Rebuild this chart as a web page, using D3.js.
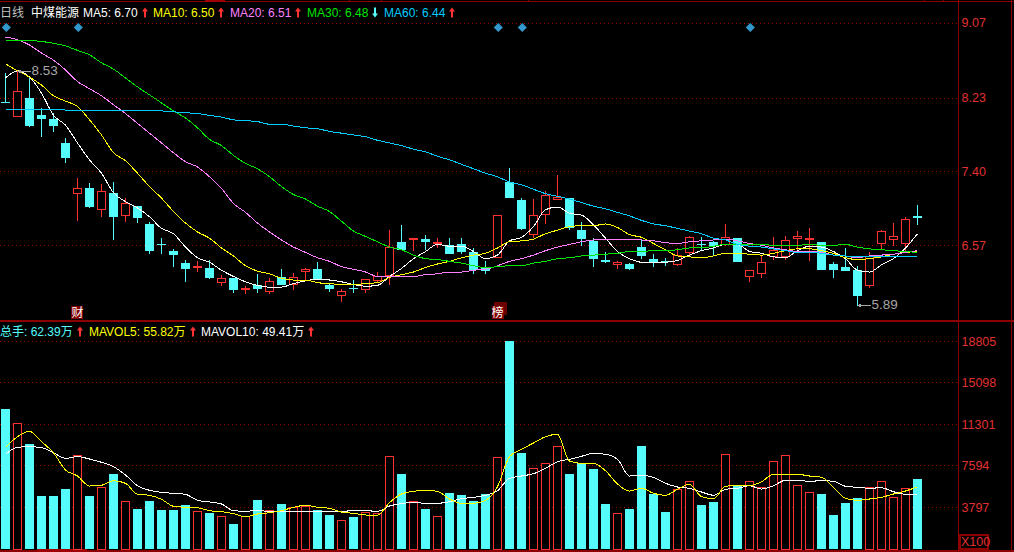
<!DOCTYPE html>
<html>
<head>
<meta charset="utf-8">
<script src="https://cdn.jsdelivr.net/npm/d3@7"></script>
<style>
html, body { margin: 0; padding: 0; background: #000; overflow: hidden; }
text { font-family: "Liberation Sans", "Noto Sans CJK SC", sans-serif; }
</style>
</head>
<body>
<div id="root"></div>
<script>
//DATA - one entry per trading day
const open = [8.18,8.02,8.23,8.03,7.99,7.72,7.15,7.21,6.98,7.16,6.91,7.01,6.81,6.58,6.51,6.37,6.33,6.31,6.16,6.20,6.08,6.12,6.06,6.21,6.13,6.28,6.30,6.12,6.01,6.09,6.08,6.19,6.23,6.61,6.64,6.64,6.60,6.57,6.58,6.49,6.31,6.44,7.28,7.08,6.70,6.92,7.09,7.10,6.74,6.62,6.40,6.36,6.36,6.55,6.42,6.39,6.36,6.49,6.59,6.61,6.58,6.65,6.22,6.26,6.45,6.45,6.65,6.64,6.61,6.36,6.33,6.29,6.12,6.60,6.64,6.59,6.90];
const close = [8.17,8.30,7.91,7.99,7.91,7.55,7.21,7.00,7.18,6.89,7.05,6.88,6.51,6.57,6.47,6.30,6.34,6.20,6.20,6.07,6.09,6.07,6.17,6.12,6.21,6.30,6.19,6.08,6.06,6.08,6.19,6.23,6.55,6.52,6.65,6.61,6.61,6.47,6.49,6.29,6.28,6.91,7.10,6.75,6.91,7.13,7.11,6.76,6.64,6.42,6.38,6.38,6.30,6.45,6.38,6.38,6.46,6.66,6.58,6.56,6.66,6.38,6.29,6.38,6.52,6.63,6.67,6.65,6.30,6.29,6.29,6.00,6.45,6.73,6.67,6.86,6.88];
const high = [8.51,8.53,8.46,8.11,8.06,7.78,7.33,7.27,7.26,7.28,7.10,7.01,6.83,6.65,6.53,6.40,6.39,6.40,6.24,6.20,6.11,6.25,6.20,6.30,6.26,6.31,6.38,6.13,6.08,6.18,6.19,6.27,6.74,6.80,6.65,6.69,6.65,6.65,6.65,6.54,6.39,6.91,7.44,7.10,7.09,7.18,7.36,7.10,6.83,6.65,6.49,6.39,6.37,6.64,6.47,6.43,6.54,6.67,6.66,6.62,6.81,6.65,6.29,6.45,6.66,6.67,6.73,6.76,6.61,6.38,6.54,6.34,6.49,6.74,6.82,6.89,7.02];
const low = [8.17,8.02,7.90,7.79,7.84,7.49,6.84,6.99,6.89,6.63,6.83,6.82,6.47,6.47,6.33,6.16,6.27,6.19,6.11,6.03,6.02,6.03,6.02,6.12,6.07,6.18,6.18,6.05,5.93,6.03,6.03,6.16,6.12,6.52,6.51,6.52,6.54,6.47,6.47,6.25,6.25,6.44,7.10,6.74,6.65,6.81,7.09,6.74,6.56,6.33,6.37,6.30,6.29,6.42,6.33,6.34,6.34,6.44,6.52,6.45,6.56,6.38,6.16,6.20,6.40,6.40,6.52,6.39,6.29,6.20,6.28,5.89,6.09,6.52,6.56,6.49,6.80];

const ma5 = [8.45,8.53,8.46,8.28,8.03,7.92,7.72,7.53,7.38,7.16,7.06,6.99,6.89,6.76,6.70,6.55,6.43,6.38,6.29,6.22,6.16,6.12,6.10,6.10,6.14,6.17,6.19,6.18,6.16,6.13,6.11,6.12,6.22,6.31,6.42,6.50,6.58,6.56,6.56,6.50,6.42,6.46,6.62,6.66,6.78,6.97,7.00,6.93,6.91,6.80,6.65,6.50,6.42,6.38,6.38,6.38,6.40,6.46,6.51,6.54,6.58,6.58,6.50,6.48,6.44,6.43,6.51,6.56,6.55,6.50,6.42,6.29,6.27,6.35,6.42,6.54,6.70];
const ma10 = [8.61,8.53,8.46,8.37,8.25,8.19,8.13,7.98,7.81,7.61,7.52,7.38,7.23,7.10,6.95,6.82,6.72,6.65,6.54,6.45,6.34,6.28,6.25,6.20,6.18,6.18,6.15,6.14,6.13,6.13,6.14,6.15,6.21,6.24,6.27,6.32,6.36,6.39,6.43,6.46,6.48,6.54,6.61,6.62,6.64,6.70,6.74,6.78,6.79,6.79,6.81,6.77,6.69,6.66,6.59,6.52,6.45,6.44,6.43,6.45,6.48,6.48,6.47,6.46,6.48,6.51,6.53,6.53,6.51,6.48,6.43,6.41,6.42,6.44,6.47,6.49,6.50];
const ma20 = [8.91,8.88,8.82,8.73,8.65,8.54,8.41,8.33,8.25,8.15,8.05,7.94,7.83,7.72,7.61,7.51,7.45,7.34,7.21,7.04,6.94,6.82,6.72,6.63,6.55,6.49,6.43,6.39,6.33,6.30,6.27,6.22,6.22,6.22,6.22,6.24,6.25,6.27,6.27,6.29,6.30,6.34,6.39,6.42,6.46,6.51,6.55,6.58,6.61,6.63,6.64,6.64,6.64,6.63,6.62,6.60,6.59,6.61,6.62,6.63,6.64,6.62,6.59,6.57,6.54,6.52,6.50,6.50,6.49,6.46,6.45,6.43,6.45,6.46,6.47,6.49,6.51];
const ma30 = [8.87,8.87,8.87,8.86,8.84,8.81,8.76,8.71,8.62,8.55,8.45,8.35,8.26,8.17,8.08,8.00,7.89,7.76,7.69,7.58,7.49,7.43,7.34,7.23,7.14,7.09,7.01,6.95,6.84,6.73,6.67,6.61,6.55,6.52,6.46,6.42,6.41,6.39,6.37,6.34,6.32,6.33,6.34,6.34,6.37,6.39,6.42,6.43,6.45,6.46,6.47,6.48,6.50,6.50,6.51,6.51,6.52,6.54,6.54,6.56,6.58,6.58,6.58,6.58,6.57,6.57,6.57,6.58,6.57,6.57,6.58,6.55,6.53,6.52,6.51,6.50,6.49];
const ma60 = [8.10,8.10,8.10,8.10,8.10,8.09,8.09,8.09,8.09,8.09,8.09,8.09,8.09,8.08,8.07,8.06,8.05,8.03,8.01,7.98,7.97,7.96,7.93,7.93,7.91,7.89,7.88,7.85,7.83,7.81,7.79,7.75,7.72,7.69,7.65,7.62,7.57,7.53,7.48,7.43,7.38,7.34,7.28,7.25,7.20,7.15,7.12,7.09,7.05,7.01,6.98,6.94,6.90,6.85,6.81,6.79,6.76,6.73,6.70,6.65,6.63,6.58,6.56,6.55,6.53,6.51,6.49,6.49,6.48,6.46,6.45,6.44,6.44,6.44,6.44,6.44,6.45];

// volume in X100
const volume = [12683,11390,9519,4818,4818,5451,8498,4818,5632,6807,4339,3643,4366,3553,3553,4005,3435,3282,2983,2287,3010,4457,3526,4095,3797,3914,3553,3101,2622,2920,3372,3254,8407,6807,4339,3643,2983,5090,4909,4366,4999,8317,18830,8706,7322,7774,9311,6807,7774,7259,4095,3254,3643,9338,4999,3372,5424,6147,4005,4276,8588,5786,6147,5605,7955,8498,5786,5153,4999,3101,4186,4638,5605,6147,4701,5514,6355];
const mavol5 = [9221,10179,10667,9727,8733,7169,6626,5722,5786,6201,5966,4972,4882,4520,3887,3797,3761,3489,3399,3218,2947,3191,3309,3489,3797,3978,3797,3706,3372,3254,3101,3101,4213,4999,5243,5334,5243,4547,4158,4158,4430,5659,8371,9040,9610,10179,10396,7982,7774,7774,7105,5903,5270,5514,5062,4882,5424,5876,4755,4574,5695,5786,5749,6111,6780,6780,6780,6626,6509,5605,4610,4430,4547,4701,4999,5270,5650];
const mavol10 = [8588,9221,9275,9185,8733,8226,8371,8163,7865,7467,6717,5749,5334,5153,5062,4972,4430,4276,4095,3489,3435,3526,3399,3399,3435,3435,3435,3435,3435,3489,3489,3435,3914,4122,4249,4158,4158,4303,4574,4701,4882,5297,6418,6626,6834,7322,7919,8136,8407,8678,8588,8136,6626,6690,6509,5966,5632,5514,5180,4882,5424,5514,5749,5451,5749,6238,6238,6147,6201,6147,5695,5605,5514,5569,5207,4972,5000];

// tick labels
const priceTicks = [9.07, 8.23, 7.40, 6.57];
const volumeTicks = [18805, 15098, 11301, 7594, 3797];

// legend rows: label, colour, left edge, arrow direction
const priceLegend = [
  {label: "MA5: 6.70", color: "#ffffff", left: 83, arrow: "up"},
  {label: "MA10: 6.50", color: "#ffff00", left: 153, arrow: "up"},
  {label: "MA20: 6.51", color: "#ff80ff", left: 230, arrow: "up"},
  {label: "MA30: 6.48", color: "#00e600", left: 307, arrow: "down"},
  {label: "MA60: 6.44", color: "#00ccff", left: 384, arrow: "up"}
];
const volumeLegend = [
  {label: "总手: 62.39万", color: "#54fcfc", left: 0, arrow: "up"},
  {label: "MAVOL5: 55.82万", color: "#ffff00", left: 89, arrow: "up"},
  {label: "MAVOL10: 49.41万", color: "#ffffff", left: 201, arrow: "up"}
];

// event markers, by day index
const diamondDays = [0, 6, 41, 43, 62];

// short marks on the top frame line
const topMarks = [349, 381, 528, 924, 943];

//DIMENSIONS
const width = 1014;
const height = 552;
const axisX = 958.5;
const red = "#ff3232";
const cyan = "#54fcfc";
const frame = "#8c0000";

//CREATE SVG
const svg = d3.select("#root")
  .append("svg")
  .attr("width", width)
  .attr("height", height)
  .style("display", "block")
  .style("background", "#000");

//SCALES
const x = d3.scaleLinear().domain([0, 76]).range([5.5, 917.5]);
const y = d3.scaleLinear().domain([6.57, 9.07]).range([245.3, 22.8]);
const yVol = d3.scaleLinear().domain([0, 18805]).range([549.3, 341.3]);
const days = d3.range(open.length);
const snap = v => Math.round(v) + 0.5;

//GRID
function grid(ticks, scale) {
  svg.append("g").selectAll("line").data(ticks).join("line")
    .attr("x1", 0).attr("x2", axisX)
    .attr("y1", d => snap(scale(d))).attr("y2", d => snap(scale(d)))
    .attr("stroke", "#a00000")
    .attr("stroke-dasharray", "1 3")
    .attr("shape-rendering", "crispEdges");
}
grid(priceTicks, y);
grid(volumeTicks, yVol);

//FRAME
const frameLines = [
  [0, 1.5, width, 1.5],
  [0, 320.5, width, 320.5],
  [0, 550.5, width, 550.5],
  [axisX, 0, axisX, height],
  [1011.5, 0, 1011.5, height]
];
svg.append("g").selectAll("line").data(frameLines).join("line")
  .attr("x1", d => d[0]).attr("y1", d => d[1])
  .attr("x2", d => d[2]).attr("y2", d => d[3])
  .attr("stroke", frame)
  .attr("stroke-width", (d, i) => i == 1 || i == 2 ? 2 : 1)
  .attr("shape-rendering", "crispEdges");

svg.append("g").selectAll("line").data(topMarks).join("line")
  .attr("x1", d => d + 0.5).attr("x2", d => d + 0.5)
  .attr("y1", 0).attr("y2", 2)
  .attr("stroke", frame)
  .attr("shape-rendering", "crispEdges");
svg.append("rect").attr("x", 205).attr("y", 0).attr("width", 20).attr("height", 2).attr("fill", "#a00000");
svg.append("rect").attr("x", 37).attr("y", 549).attr("width", 50).attr("height", 3).attr("fill", "#a00000");

//AXES
function axis(scale, ticks, format) {
  const g = svg.append("g")
    .attr("transform", `translate(${axisX},0)`)
    .call(d3.axisRight(scale).tickValues(ticks).tickSize(0).tickPadding(3).tickFormat(format));
  g.select(".domain").remove();
  g.selectAll("text")
    .attr("fill", "#e03030")
    .style("font-family", '"Liberation Sans", sans-serif')
    .style("font-size", "12.5px");
}
axis(y, priceTicks, d3.format(".2f"));
axis(yVol, volumeTicks, d3.format("d"));

// X100 box
svg.append("rect")
  .attr("x", 959.5).attr("y", 534.5).attr("width", 28).attr("height", 14)
  .attr("fill", "none").attr("stroke", frame).attr("stroke-width", 2)
  .attr("shape-rendering", "crispEdges");
svg.append("text").attr("x", 961).attr("y", 546)
  .attr("fill", "#e03030").style("font-size", "12.5px").text("X100");

//CANDLES
const isUp = i => close[i] > open[i];
const candles = svg.append("g").attr("shape-rendering", "crispEdges");
candles.selectAll("line").data(days).join("line")
  .attr("x1", d => snap(x(d) - 0.5)).attr("x2", d => snap(x(d) - 0.5))
  .attr("y1", d => y(high[d])).attr("y2", d => y(low[d]))
  .attr("stroke", d => isUp(d) ? red : cyan);
candles.selectAll("rect").data(days).join("rect")
  .attr("x", d => isUp(d) ? snap(x(d) - 4.5) : Math.round(x(d) - 4.5))
  .attr("width", d => isUp(d) ? 8 : 9)
  .attr("y", d => Math.round(y(Math.max(open[d], close[d]))) + (isUp(d) ? 0.5 : 0))
  .attr("height", d => Math.max(1, Math.round(Math.abs(y(open[d]) - y(close[d])))))
  .attr("fill", d => isUp(d) ? "#000" : cyan)
  .attr("stroke", d => isUp(d) ? red : "none");

//MOVING AVERAGES
const maLine = scale => d3.line()
  .x((d, i) => x(i))
  .y(d => scale(d))
  .curve(d3.curveMonotoneX);

const priceLines = [[ma5, "#ffffff"], [ma10, "#ffff00"], [ma20, "#ff80ff"], [ma30, "#00e600"], [ma60, "#00ccff"]];
svg.append("g").selectAll("path").data(priceLines).join("path")
  .attr("d", d => maLine(y)(d[0]))
  .attr("fill", "none")
  .attr("stroke", d => d[1])
  .attr("stroke-width", 1)
  .attr("shape-rendering", "crispEdges");

//VOLUME BARS
svg.append("g").attr("shape-rendering", "crispEdges")
  .selectAll("rect").data(days).join("rect")
  .attr("x", d => isUp(d) ? snap(x(d) - 4.5) : Math.round(x(d) - 4.5))
  .attr("width", d => isUp(d) ? 8 : 9)
  .attr("y", d => Math.round(yVol(volume[d])) + (isUp(d) ? 0.5 : 0))
  .attr("height", d => Math.round(yVol(0) - yVol(volume[d])))
  .attr("fill", d => isUp(d) ? "#000" : cyan)
  .attr("stroke", d => isUp(d) ? red : "none");

const volumeLines = [[mavol10, "#ffffff"], [mavol5, "#ffff00"]];
svg.append("g").selectAll("path").data(volumeLines).join("path")
  .attr("d", d => maLine(yVol)(d[0]))
  .attr("fill", "none")
  .attr("stroke", d => d[1])
  .attr("stroke-width", 1)
  .attr("shape-rendering", "crispEdges");

//DIAMONDS
svg.append("g").selectAll("path").data(diamondDays).join("path")
  .attr("transform", d => `translate(${x(d) + 0.8},27.5) rotate(45)`)
  .attr("d", d3.symbol(d3.symbolSquare, 42))
  .attr("fill", "#3399cc");

//LEGENDS
function arrow(ax, ay, dir, color) {
  const s = dir == "up" ? 1 : -1;
  svg.append("path")
    .attr("d", `M${ax - 3},${ay - s} L${ax},${ay - 5 * s} L${ax + 3},${ay - s} L${ax + 1},${ay - s} L${ax + 1},${ay + 5 * s} L${ax - 1},${ay + 5 * s} L${ax - 1},${ay - s} Z`)
    .attr("fill", color);
}
function legend(items, baseline) {
  items.forEach(item => {
    const t = svg.append("text")
      .attr("x", item.left).attr("y", baseline)
      .attr("fill", item.color)
      .style("font-size", "12px")
      .text(item.label);
    const right = item.left + t.node().getComputedTextLength();
    arrow(Math.round(right) + 7, baseline - 4.5, item.arrow, item.arrow == "up" ? red : cyan);
  });
}
svg.append("text").attr("x", 0).attr("y", 17).attr("fill", "#c0c0c0")
  .style("font-size", "12px").text("日线");
svg.append("text").attr("x", 31).attr("y", 17).attr("fill", "#ffffff")
  .style("font-size", "12px").text("中煤能源");
legend(priceLegend, 17);
legend(volumeLegend, 336);

//EVENT TAGS
svg.append("rect").attr("x", 494).attr("y", 302).attr("width", 13).attr("height", 13).attr("fill", "#6a0000");
function tag(day, label) {
  svg.append("rect").attr("x", Math.round(x(day)) - 6).attr("y", 306).attr("width", 12).attr("height", 13).attr("fill", "#800000");
  svg.append("text").attr("x", x(day)).attr("y", 317).attr("text-anchor", "middle")
    .attr("fill", "#ffffff").style("font-size", "12px").text(label);
}
tag(6, "财");
tag(41, "榜");

//HIGH AND LOW NOTES
function note(day, value, label, dy) {
  const px = x(day);
  const py = Math.round(y(value)) + dy;
  svg.append("path")
    .attr("d", `M${px + 1},${py + 0.5} H${px + 13} M${px + 1},${py + 0.5} l3,-2 M${px + 1},${py + 0.5} l3,2`)
    .attr("fill", "none").attr("stroke", "#a8a8a8").attr("shape-rendering", "crispEdges");
  svg.append("text").attr("x", px + 14).attr("y", py + 4)
    .attr("fill", "#a8a8a8").style("font-size", "13.5px").text(label);
}
note(1, 8.53, "8.53", 0);
note(71, 5.89, "5.89", -1);
</script>
</body>
</html>
